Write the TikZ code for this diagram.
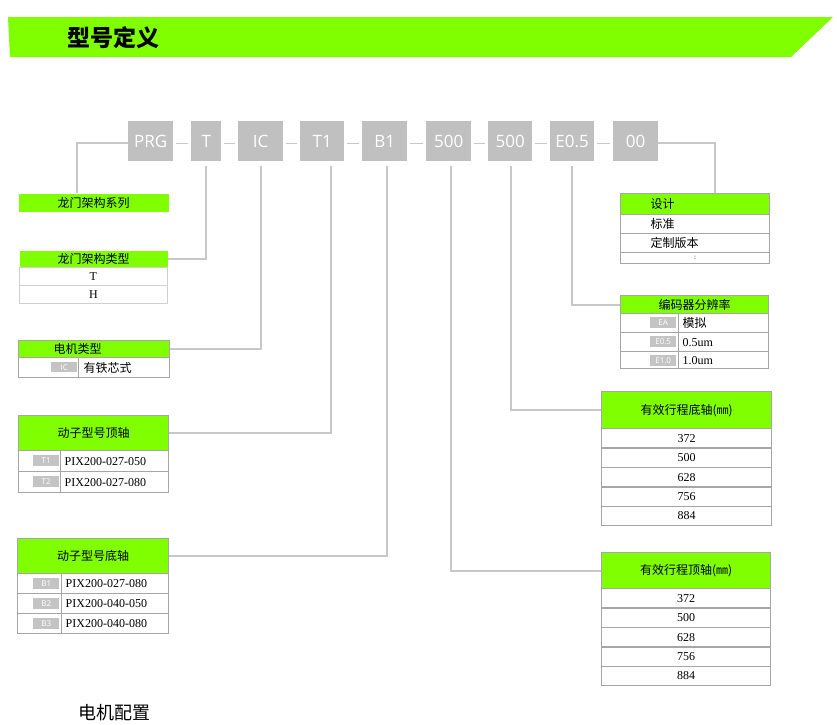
\documentclass[tikz,border=0pt]{standalone}
\usepackage{fontspec}
\setmainfont{Liberation Serif}
\newfontfamily\cjk{Noto Sans CJK SC}
\newfontfamily\boxf{Open Sans}
\newcommand\hdrf{\cjk\fontsize{12}{12}\selectfont}
\newcommand\rowf{\fontsize{12}{12}\selectfont}
\newcommand\labf{\boxf\fontsize{8}{8}\selectfont}
\definecolor{hgreen}{RGB}{128,255,0}
\definecolor{boxgray}{RGB}{192,192,192}
\definecolor{bord}{RGB}{166,166,166}
\definecolor{lightbord}{RGB}{208,208,208}
\definecolor{conngray}{RGB}{200,200,200}
\definecolor{labg}{RGB}{196,196,196}
\tikzset{
 topbox/.style={anchor=north west, fill=boxgray, text=white, inner sep=0pt, minimum height=40pt, font=\boxf\fontsize{17}{17}\selectfont},
 dashln/.style={draw=conngray, line width=1.3pt},
 connln/.style={draw=conngray, line width=1.6pt},
 cell/.style={anchor=north west, inner sep=0pt, draw=bord, line width=1.4pt, fill=white, font=\rowf},
 hdr/.style={cell, fill=hgreen, font=\hdrf},
 lab/.style={anchor=north west, inner sep=0pt, fill=labg, text=white, minimum width=26pt, minimum height=11pt, font=\labf},
}
\begin{document}
\begin{tikzpicture}[x=1pt,y=-1pt]
\clip (0,0) rectangle (837,724);
\useasboundingbox (0,0) rectangle (837,724);
\fill[white] (0,0) rectangle (837,724);
% banner
\fill[hgreen] (8,17) -- (833,17) -- (791,57) -- (10,57) -- cycle;
\node[font=\cjk\bfseries\fontsize{23}{23}\selectfont, anchor=west, inner sep=0pt] (title) at (67,38) {型号定义};
% top code boxes
\node[topbox, minimum width=45pt] (prg) at (128,121) {PRG};
\node[topbox, minimum width=30pt] (t) at (191,121) {T};
\node[topbox, minimum width=45pt] (ic) at (238,121) {IC};
\node[topbox, minimum width=44pt] (t1) at (300,121) {T1};
\node[topbox, minimum width=45pt] (b1) at (362,121) {B1};
\node[topbox, minimum width=45pt] (sa) at (426,121) {500};
\node[topbox, minimum width=44pt] (sb) at (488,121) {500};
\node[topbox, minimum width=44pt] (e) at (550,121) {E0.5};
\node[topbox, minimum width=45pt] (oo) at (613,121) {00};
\foreach \a/\b in {prg/t,t/ic,ic/t1,t1/b1,b1/sa,sa/sb,sb/e,e/oo}
  \draw[dashln] ([xshift=3pt,yshift=-2pt]\a.east) -- ([xshift=-3pt,yshift=-2pt]\b.west);
% left tables
\node[hdr, draw=none, minimum width=150pt, minimum height=18pt] (ser) at (18,193) {龙门架构系列};
\node[hdr, draw=none, minimum width=148pt, minimum height=17pt] (typ) at (19,250) {龙门架构类型};
\node[cell, draw=lightbord, line width=0.8pt, minimum width=148pt, minimum height=18pt] (typa) at (19,267) {T};
\node[cell, draw=lightbord, line width=0.8pt, minimum width=148pt, minimum height=18pt] (typb) at (19,285) {H};
% motor type
\node[hdr, minimum width=151pt, minimum height=17pt, text width=151pt, align=left] (mot) at (18,340) {\hspace*{35pt}电机类型};
\node[cell, minimum width=60pt, minimum height=20pt] (motl) at (18,357) {};
\node[cell, minimum width=91pt, minimum height=20pt, text width=91pt, align=left] (motr) at (78,357) {\hspace*{5pt}\cjk 有铁芯式};
\node[lab, minimum height=10pt] (motlab) at (51,362) {IC};
% mover top axis
\node[hdr, minimum width=150pt, minimum height=35pt] (mt) at (18,415) {动子型号顶轴};
\node[cell, minimum width=42pt, minimum height=21pt] (mt1l) at (18,450) {};
\node[cell, minimum width=108pt, minimum height=21pt, text width=108pt, align=left] (mt1r) at (60,450) {\hspace*{4pt}PIX200-027-050};
\node[cell, minimum width=42pt, minimum height=21pt] (mt2l) at (18,471) {};
\node[cell, minimum width=108pt, minimum height=21pt, text width=108pt, align=left] (mt2r) at (60,471) {\hspace*{4pt}PIX200-027-080};
\node[lab] (mtlab1) at (33,455) {T1};
\node[lab] (mtlab2) at (33,476) {T2};
% mover bottom axis
\node[hdr, minimum width=151pt, minimum height=35pt] (mb) at (17,538) {动子型号底轴};
\foreach \v/\lb/\y [count=\i] in {PIX200-027-080/B1/573, PIX200-040-050/B2/593, PIX200-040-080/B3/613}{
  \node[cell, minimum width=44pt, minimum height=20pt] (mbl\i) at (17,\y) {};
  \node[cell, minimum width=107pt, minimum height=20pt, text width=107pt, align=left] (mbr\i) at (61,\y) {\hspace*{4pt}\v};
  \node[lab] (mblab\i) at (33,{\y+4.5}) {\lb};
}
% right tables: design
\node[hdr, minimum width=149pt, minimum height=21pt, text width=149pt, align=left] (des) at (620,193) {\hspace*{30pt}设计};
\node[cell, minimum width=149pt, minimum height=19pt, text width=149pt, align=left] (des1) at (620,214) {\hspace*{30pt}\cjk 标准};
\node[cell, minimum width=149pt, minimum height=19pt, text width=149pt, align=left] (des2) at (620,233) {\hspace*{30pt}\cjk 定制版本};
\node[cell, minimum width=149pt, minimum height=11pt, font=\fontsize{7}{7}\selectfont] (des3) at (620,252) {:};
% encoder
\node[hdr, minimum width=148pt, minimum height=18pt] (enc) at (620,295) {编码器分辨率};
\foreach \v/\lb/\y/\h [count=\i] in {{\cjk 模拟}/EA/313/19, 0.5um/E0.5/332/19, 1.0um/E1.0/351/17}{
  \node[cell, minimum width=58pt, minimum height=\h pt] (encl\i) at (620,\y) {};
  \node[cell, minimum width=90pt, minimum height=\h pt, text width=90pt, align=left] (encr\i) at (678,\y) {\hspace*{4pt}\v};
  \node[lab] (enclab\i) at (650,{\y+4}) {\lb};
}
% stroke bottom axis
\node[hdr, minimum width=170pt, minimum height=37pt] (bot) at (601,391) {有效行程底轴(㎜)};
\foreach \v [count=\i from 0] in {372,500,628,756,884}
  \node[cell, minimum width=170pt, minimum height=19.4pt] (bot\i) at (601,{428+\i*19.4}) {\v};
% stroke top axis
\node[hdr, minimum width=169pt, minimum height=36pt] (tax) at (601,552) {有效行程顶轴(㎜)};
\foreach \v [count=\i from 0] in {372,500,628,756,884}
  \node[cell, minimum width=169pt, minimum height=19.4pt] (tax\i) at (601,{588+\i*19.4}) {\v};
% connectors
\draw[connln] ([yshift=-2pt]prg.west) -| ([xshift=-17pt]ser.north);
\draw[connln] ([yshift=-2pt]oo.east) -| ([xshift=20pt]des.north);
\draw[connln] ([yshift=-5pt]t.south) |- (typ.east);
\draw[connln] ([yshift=-5pt]ic.south) |- (mot.east);
\draw[connln] ([xshift=9pt,yshift=-5pt]t1.south) |- (mt.east);
\draw[connln] ([xshift=2pt,yshift=-5pt]b1.south) |- (mb.east);
\draw[connln] ([xshift=2.5pt,yshift=-5pt]sa.south) |- (tax.west);
\draw[connln] ([xshift=1pt,yshift=-5pt]sb.south) |- (bot.west);
\draw[connln] ([yshift=-5pt]e.south) |- (enc.west);
% bottom heading
\node[font=\cjk\fontsize{18}{18}\selectfont, anchor=north west, inner sep=0pt] (mc) at (78,704) {电机配置};
\end{tikzpicture}
\end{document}
